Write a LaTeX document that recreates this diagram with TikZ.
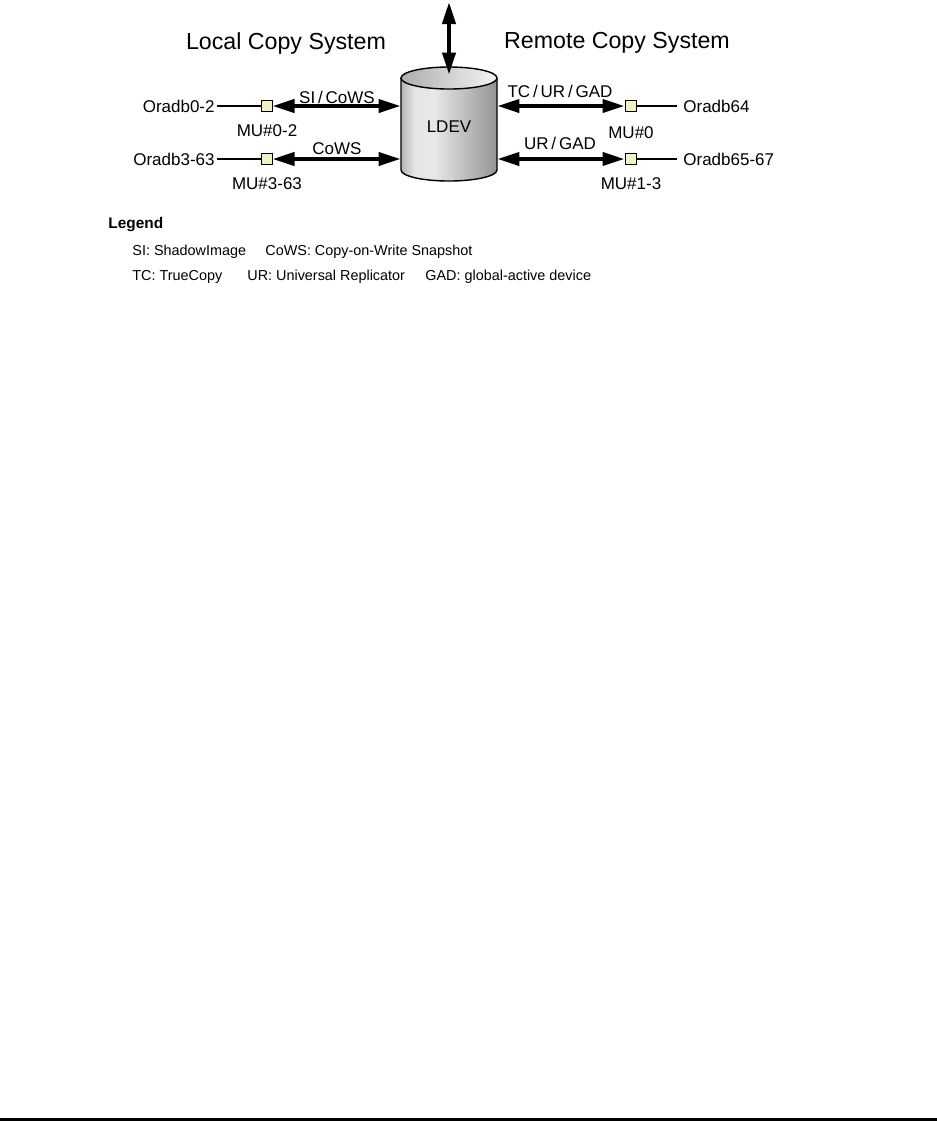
\documentclass[tikz,border=0pt]{standalone}
\usepackage{fontspec}
\setmainfont{Liberation Sans}
\usepackage{tikz}
\usetikzlibrary{arrows.meta, positioning}
\definecolor{muFill}{RGB}{242,240,196}
\pgfdeclarehorizontalshading{cylBody}{100bp}{color(0bp)=(black!30); color(25bp)=(black!30); color(32bp)=(black!10); color(42bp)=(black!9); color(75bp)=(black!42); color(100bp)=(black!42)}
\tikzset{
  copyarrow/.style={{Triangle[length=11pt,width=6.5pt]}-{Triangle[length=11pt,width=6.5pt]}, line width=2pt},
  mubox/.style={draw, line width=0.5pt, fill=muFill, minimum size=5.5pt, inner sep=0pt},
  dbline/.style={line width=0.75pt},
  lbl/.style={font=\fontsize{8.5}{10}\selectfont, inner sep=0pt},
  systitle/.style={font=\fontsize{11.6}{14}\selectfont, inner sep=0pt},
  legendtext/.style={font=\fontsize{7.2}{9}\selectfont, inner sep=0pt, anchor=west}
}
\begin{document}
\begin{tikzpicture}[x=0.5pt, y=0.5pt]
\useasboundingbox (0,0) rectangle (937,-1121);
% ======== LDEV cylinder ========
\shade[shading=cylBody] (401,-78) -- (401,-170) arc[start angle=180, end angle=360, x radius=48, y radius=11]
  -- (497,-78) arc[start angle=0, end angle=180, x radius=48, y radius=11] -- cycle;
\shade[left color=black!32, right color=black!4] (449,-78) ellipse[x radius=48, y radius=11];
\draw[line width=0.7pt] (401,-78) -- (401,-170) arc[start angle=180, end angle=360, x radius=48, y radius=11] -- (497,-78);
\draw[line width=0.7pt] (449,-78) ellipse[x radius=48, y radius=11];
\node[lbl, minimum width=48pt, minimum height=52pt] (ldev) at (449,-127) {LDEV};
% host side
\coordinate (host) at (449,-2);
\draw[copyarrow] (host) -- (ldev.north);
% ======== titles ========
\node[systitle] (local) at (286,-43) {Local Copy System};
\node[systitle] (remote) at (617,-43) {Remote Copy System};
% ======== LEFT: local copy pairs ========
\node[mubox] (mu02) at (266.5,-106) {};
\node[mubox] (mu363) at (266.5,-159) {};
\node[lbl, anchor=east] (db02) at (215,-106) {Oradb0-2};
\node[lbl, anchor=east] (db363) at (215,-159) {Oradb3-63};
\draw[dbline, shorten <=1pt] (db02) -- (mu02);
\draw[dbline, shorten <=1pt] (db363) -- (mu363);
\draw[copyarrow] (mu02) -- (mu02 -| ldev.west);
\draw[copyarrow] (mu363) -- (mu363 -| ldev.west);
\node[lbl] (sicows) at (337,-97) {SI\,/\,CoWS};
\node[lbl] (cows) at (337,-149) {CoWS};
\node[lbl] (mu02l) at (267,-131) {MU\#0-2};
\node[lbl] (mu363l) at (267,-184) {MU\#3-63};
% ======== RIGHT: remote copy pairs ========
\node[mubox] (mu0) at (630.5,-106) {};
\node[mubox] (mu13) at (630.5,-159) {};
\node[lbl, anchor=west] (db64) at (683,-106) {Oradb64};
\node[lbl, anchor=west] (db6567) at (683,-159) {Oradb65-67};
\draw[dbline, shorten >=3pt] (mu0) -- (db64);
\draw[dbline, shorten >=3pt] (mu13) -- (db6567);
\draw[copyarrow] (ldev.east |- mu0) -- (mu0);
\draw[copyarrow] (ldev.east |- mu13) -- (mu13);
\node[lbl] (tcurgad) at (560,-91) {TC\,/\,UR\,/\,GAD};
\node[lbl] (urgad) at (560,-143) {UR\,/\,GAD};
\node[lbl] (mu0l) at (631,-133) {MU\#0};
\node[lbl] (mu13l) at (631,-184) {MU\#1-3};
% ======== legend ========
\node[legendtext, font=\fontsize{7.7}{9}\selectfont\bfseries] (leg) at (108,-225) {Legend};
\node[legendtext] (legsi) at (132,-252) {SI: ShadowImage};
\node[legendtext] (legcows) at (265,-252) {CoWS: Copy-on-Write Snapshot};
\node[legendtext] (legtc) at (132,-277) {TC: TrueCopy};
\node[legendtext] (legur) at (247,-277) {UR: Universal Replicator};
\node[legendtext] (leggad) at (425,-277) {GAD: global-active device};
% page rule
\draw[line width=1.25pt] (0,-1119.5) -- (937,-1119.5);
\end{tikzpicture}
\end{document}
